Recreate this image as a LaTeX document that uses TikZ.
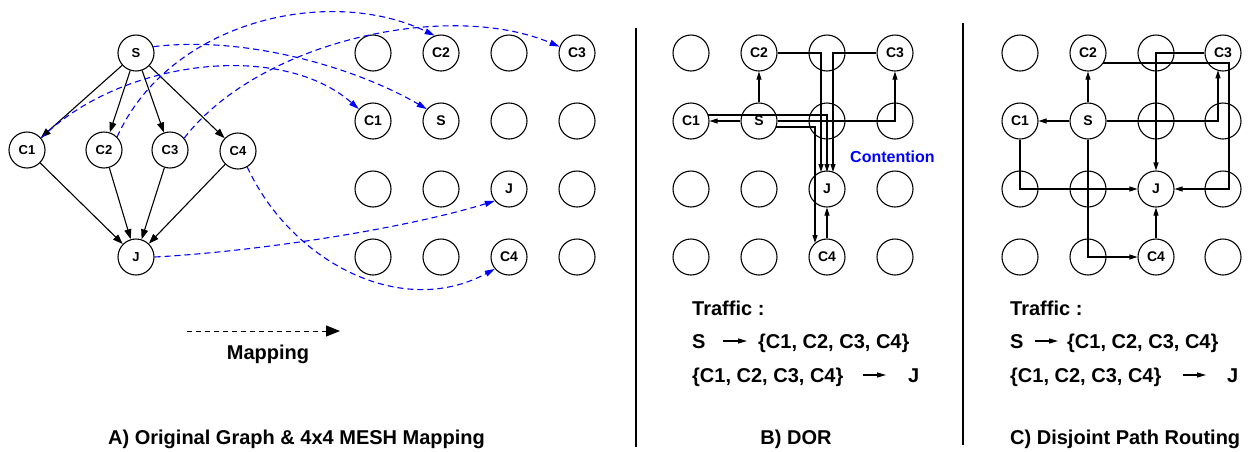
\documentclass[tikz,border=0pt]{standalone}
\usepackage{fontspec}
\setmainfont{Liberation Sans}
\usetikzlibrary{arrows.meta,calc}
\expandafter\def\csname lbl01\endcsname{C2}
\expandafter\def\csname lbl03\endcsname{C3}
\expandafter\def\csname lbl10\endcsname{C1}
\expandafter\def\csname lbl11\endcsname{S}
\expandafter\def\csname lbl22\endcsname{J}
\expandafter\def\csname lbl32\endcsname{C4}
\begin{document}
\begin{tikzpicture}[x=1pt,y=-1pt,
  gnode/.style={circle,draw,line width=1.1pt,minimum size=36pt,inner sep=0pt,font=\fontsize{13}{13}\selectfont\bfseries},
  mnode/.style={gnode,font=\fontsize{14}{14}\selectfont\bfseries},
  blk/.style={line width=1.1pt,-{Triangle[length=10pt,width=7pt]}},
  rarr/.style={line width=1.1pt,-{Triangle[length=8pt,width=5pt]}},
  mapc/.style={blue,dash pattern=on 6pt off 4pt,line width=1.1pt,-{Triangle[length=10pt,width=6pt]}},
  txt/.style={font=\fontsize{20}{20}\selectfont\bfseries,inner sep=0pt},
  tarr/.style={line width=1.1pt,-{Triangle[length=9pt,width=5pt]}},
]
\useasboundingbox (0,0) rectangle (1250,451);

% ---- panel A: original graph
\node[gnode] (gS) at (136,53) {S};
\node[gnode] (gC1) at (27,150) {C1};
\node[gnode] (gC2) at (104,150) {C2};
\node[gnode] (gC3) at (170,150) {C3};
\node[gnode] (gC4) at (238,151) {C4};
\node[gnode] (gJ) at (136,257) {J};
\foreach \c in {gC1,gC2,gC3,gC4}{
  \draw[blk] (gS) -- (\c);
  \draw[blk] (\c) -- (gJ);
}

% ---- meshes
\foreach \r/\y in {0/53,1/121,2/189,3/257}{
  \foreach \c/\x in {0/373,1/441,2/509,3/577}{
    \node[mnode] (A\r\c) at (\x,\y) {\csname lbl\r\c\endcsname};
  }
  \foreach \c/\x in {0/691,1/759,2/827,3/895}{
    \node[mnode] (B\r\c) at (\x,\y) {\csname lbl\r\c\endcsname};
  }
  \foreach \c/\x in {0/1020,1/1088,2/1156,3/1223}{
    \node[mnode] (D\r\c) at (\x,\y) {\csname lbl\r\c\endcsname};
  }
}

% ---- mapping curves
\draw[mapc] (gS.20) .. controls (250,35) and (360,70) .. (A11.140);
\draw[mapc] (gC1.40) .. controls (120,60) and (280,40) .. (A10.140);
\draw[mapc] (gC2.45) .. controls (170,20) and (330,-15) .. (A01.110);
\draw[mapc] (gC3.40) .. controls (260,40) and (450,0) .. (A03.160);
\draw[mapc] (gC4.-60) .. controls (290,260) and (400,320) .. (A32.220);
\draw[mapc] (gJ.east) .. controls (250,252) and (400,230) .. (A22.220);

% mapping legend
\coordinate (mapS) at (187,331);
\coordinate (mapE) at (340,331);
\draw[line width=1pt,dash pattern=on 5pt off 4pt,-{Triangle[length=14pt,width=11pt]}] (mapS) -- (mapE);
\node[txt,anchor=base] (mapl) at (268,359) {Mapping};
\node[txt,anchor=base west] (tA) at (108,444) {A) Original Graph \& 4x4 MESH Mapping};

% ---- panel B: DOR
\draw[rarr] (B11.north) -- (B01.south);
\draw[rarr] (B11.west) -- (B10.east);
\draw[rarr] (B11.east) -- (B13.center) -- (B03.south);
\draw[rarr] ($(B10)+(17,-6)$) -- ($(B12)+(0,-6)$) -- ($(B22)+(0,-17)$);
\draw[rarr] (B01.east) -- ($(B02)+(-6,0)$) -- ($(B22)+(-6,-17)$);
\draw[rarr] (B03.west) -- ($(B02)+(6,0)$) -- ($(B22)+(6,-17)$);
\draw[rarr] ($(B11)+(17,6)$) -- ($(B12)+(-12,6)$) -- ($(B32)+(-12,-14)$);
\draw[rarr] (B32.north) -- (B22.south);
\node[font=\fontsize{16}{16}\selectfont\bfseries,text=blue,anchor=base west,inner sep=0pt] (cont) at (850,162) {Contention};

\node[txt,anchor=base west] (trB) at (692,315) {Traffic :};
\node[txt,anchor=base west] (sB) at (692,348) {S};
\node[txt,anchor=base west] (setB1) at (758,348) {\{C1, C2, C3, C4\}};
\node[txt,anchor=base west] (setB2) at (692,382) {\{C1, C2, C3, C4\}};
\node[txt,anchor=base west] (jB) at (908,382) {J};
\coordinate (aB1s) at (723,341); \coordinate (aB1e) at (747,341);
\coordinate (aB2s) at (863,375); \coordinate (aB2e) at (886,375);
\draw[tarr] (aB1s) -- (aB1e);
\draw[tarr] (aB2s) -- (aB2e);
\node[txt,anchor=base] (tB) at (796,444) {B) DOR};

% ---- panel C: disjoint
\draw[rarr] (D11.west) -- (D10.east);
\draw[rarr] (D11.north) -- (D01.south);
\draw[rarr] (D11.east) -- ($(D13)+(-5,0)$) -- ($(D03)+(-5,17.3)$);
\draw[rarr] (D11.south) -- (D31.center) -- (D32.west);
\draw[rarr] (D10.south) -- (D20.center) -- (D22.west);
\draw[rarr] ($(D01)+(15,10)$) -- ($(D03)+(6,10)$) -- ($(D23)+(6,0)$) -- (D22.east);
\draw[rarr] (D03.west) -- (D02.center) -- (D22.north);
\draw[rarr] (D32.north) -- (D22.south);

\node[txt,anchor=base west] (trC) at (1010,315) {Traffic :};
\node[txt,anchor=base west] (sC) at (1010,348) {S};
\node[txt,anchor=base west] (setC1) at (1067,348) {\{C1, C2, C3, C4\}};
\node[txt,anchor=base west] (setC2) at (1010,382) {\{C1, C2, C3, C4\}};
\node[txt,anchor=base west] (jC) at (1227,382) {J};
\coordinate (aC1s) at (1035,341); \coordinate (aC1e) at (1058,341);
\coordinate (aC2s) at (1183,375); \coordinate (aC2e) at (1206,375);
\draw[tarr] (aC1s) -- (aC1e);
\draw[tarr] (aC2s) -- (aC2e);
\node[txt,anchor=base west] (tC) at (1010,444) {C) Disjoint Path Routing};

% separators
\coordinate (sep1t) at (636,28); \coordinate (sep1b) at (636,447);
\coordinate (sep2t) at (963,23); \coordinate (sep2b) at (963,445);
\draw[line width=2pt] (sep1t) -- (sep1b);
\draw[line width=2pt] (sep2t) -- (sep2b);
\end{tikzpicture}
\end{document}
